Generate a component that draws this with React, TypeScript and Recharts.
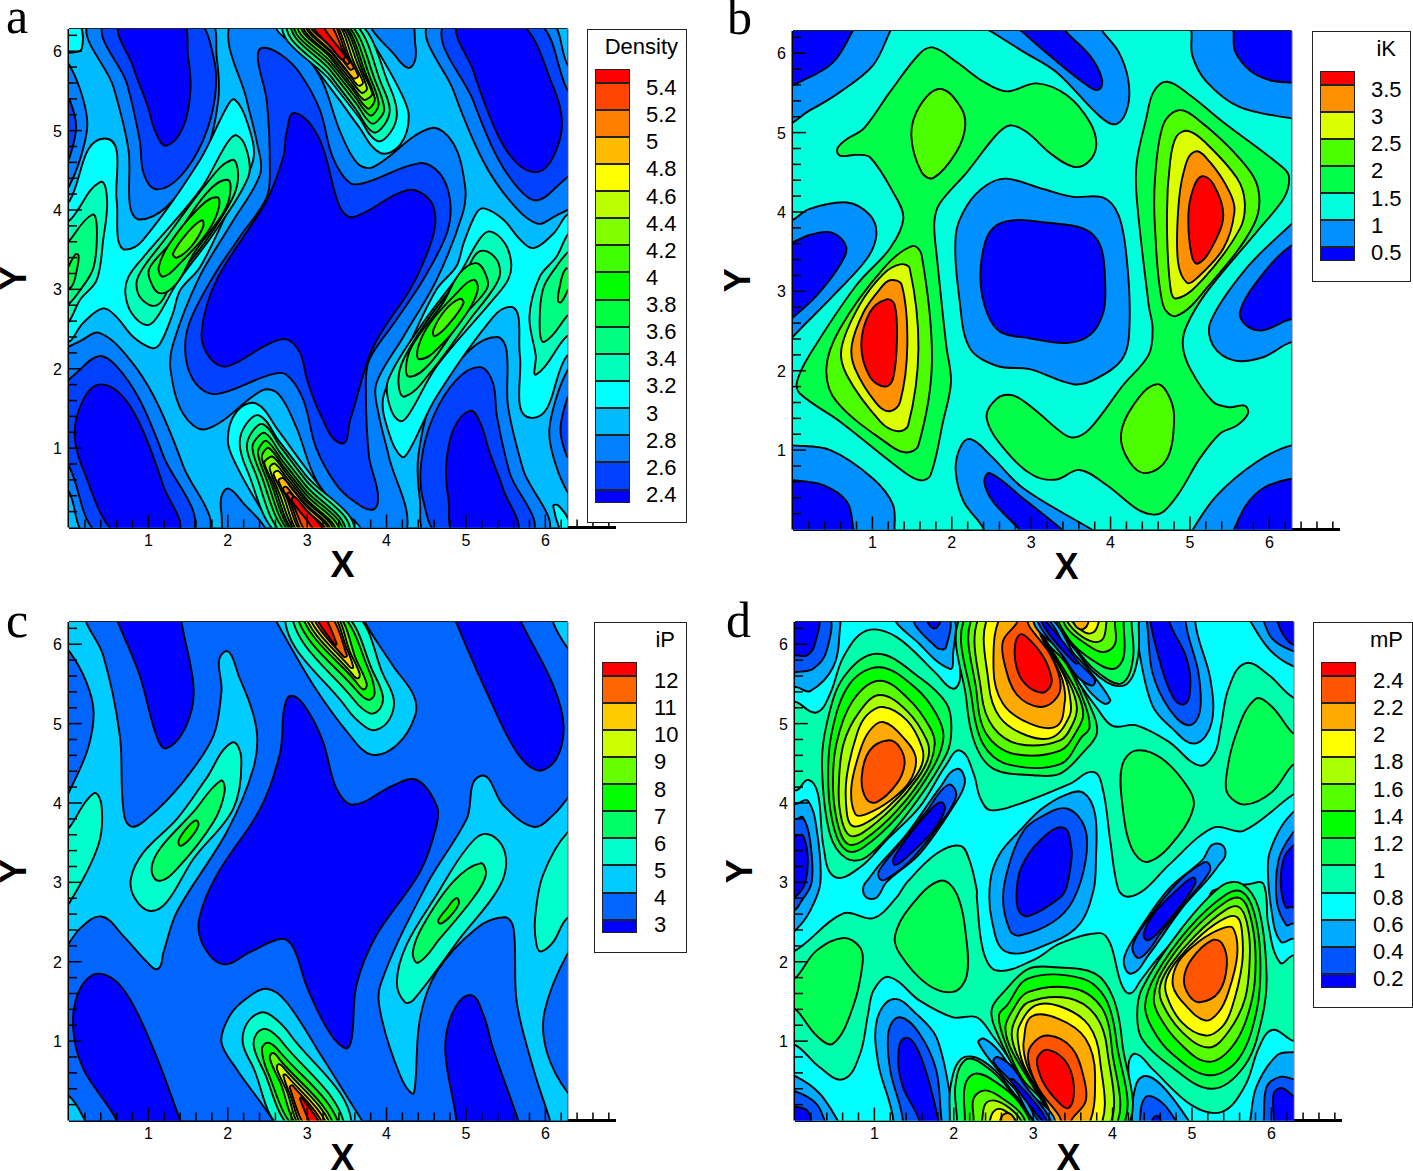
import { ScatterChart, Scatter, XAxis, YAxis, ReferenceLine } from 'recharts';

// each contour: [band, x, y, x, y, ...], painted in list order
type Contour = number[];

const xTicks = [0.2, 0.4, 0.6, 0.8, 1, 1.2, 1.4, 1.6, 1.8, 2, 2.2, 2.4, 2.6, 2.8, 3, 3.2, 3.4, 3.6, 3.8, 4, 4.2, 4.4, 4.6, 4.8, 5, 5.2, 5.4, 5.6, 5.8, 6, 6.2, 6.4, 6.6, 6.8];
const yTicks = [0.2, 0.4, 0.6, 0.8, 1, 1.2, 1.4, 1.6, 1.8, 2, 2.2, 2.4, 2.6, 2.8, 3, 3.2, 3.4, 3.6, 3.8, 4, 4.2, 4.4, 4.6, 4.8, 5, 5.2, 5.4, 5.6, 5.8, 6, 6.2];

const densityLevels = ['5.4', '5.2', '5', '4.8', '4.6', '4.4', '4.2', '4', '3.8', '3.6', '3.4', '3.2', '3', '2.8', '2.6', '2.4'];
const ikLevels = ['3.5', '3', '2.5', '2', '1.5', '1', '0.5'];
const ipLevels = ['12', '11', '10', '9', '8', '7', '6', '5', '4', '3'];
const mpLevels = ['2.4', '2.2', '2', '1.8', '1.6', '1.4', '1.2', '1', '0.8', '0.6', '0.4', '0.2'];

const densityColors = ['#0000ff', '#0040ff', '#0080ff', '#00bbff', '#00ffff', '#00ffbb', '#00ff80', '#00ff40', '#00ff00', '#40ff00', '#80ff00', '#bbff00', '#ffff00', '#ffbb00', '#ff8000', '#ff4500', '#ff0000'];
const ikColors = ['#0000ff', '#0090ff', '#00ffdc', '#00ff48', '#4cff00', '#dcff00', '#ff9000', '#ff0000'];
const ipColors = ['#0000ff', '#0066ff', '#00ccff', '#00ffcc', '#00ff66', '#00ff00', '#66ff00', '#ccff00', '#ffcc00', '#ff6600', '#ff0000'];
const mpColors = ['#0000ff', '#0055ff', '#00aaff', '#00ffff', '#00ffaa', '#00ff55', '#00ff00', '#55ff00', '#aaff00', '#ffff00', '#ffaa00', '#ff5500', '#ff0000'];

const densityContours: Contour[] = [
  [2, 2.56,6.37, 3.14,5.72, 3.41,5.0, 3.63,4.59, 3.83,4.54, 4.55,5.03, 4.84,4.84, 4.99,4.29, 4.96,3.96, 4.63,3.12, 4.21,2.40, 3.87,1.81, 3.90,1.43, 4.03,0.89, 4.24,-0.09, 3.72,-0.09, 3.14,0.55, 2.86,1.27, 2.64,1.68, 2.44,1.73, 1.73,1.24, 1.44,1.43, 1.28,1.98, 1.31,2.31, 1.64,3.15, 2.07,3.87, 2.41,4.46, 2.37,4.84, 2.24,5.38, 2.03,6.37],
  [2, 0.29,6.39, 0.56,5.55, 0.75,4.75, 0.77,4.04, 0.89,3.88, 1.23,4.04, 1.69,4.63, 1.88,5.38, 1.86,5.93, 1.75,6.39],
  [2, 5.99,-0.11, 5.72,0.73, 5.53,1.53, 5.51,2.24, 5.39,2.40, 5.05,2.24, 4.59,1.65, 4.40,0.90, 4.42,0.35, 4.53,-0.11],
  [2, 4.57,6.39, 4.84,5.51, 5.21,4.63, 5.55,4.12, 5.89,3.83, 6.10,3.91, 6.43,4.16, 6.43,5.6, 6.27,5.85, 6.03,6.39],
  [2, 1.71,-0.11, 1.44,0.77, 1.07,1.65, 0.73,2.16, 0.39,2.45, 0.18,2.37, -0.15,2.12, -0.15,0.68, 0.01,0.43, 0.25,-0.11],
  [2, -0.1,5.9, 0.02,5.80, 0.18,5.39, 0.23,5.05, 0.14,4.64, 0.0,4.30, -0.1,4.2],
  [2, 6.38,0.38, 6.26,0.48, 6.10,0.89, 6.05,1.23, 6.14,1.64, 6.28,1.98, 6.38,2.08],
  [2, 3.82,6.39, 3.82,6.27, 4.08,5.98, 4.27,5.79, 4.36,5.89, 4.36,6.10, 4.29,6.39],
  [2, 2.46,-0.11, 2.46,0.01, 2.20,0.30, 2.01,0.49, 1.92,0.39, 1.92,0.18, 1.99,-0.11],
  [1, 2.43,6.04, 2.68,5.95, 2.91,5.72, 3.16,5.26, 3.32,4.67, 3.54,4.34, 3.75,4.35, 4.42,4.59, 4.67,4.46, 4.80,4.12, 4.76,3.71, 4.46,3.12, 4.12,2.61, 3.78,2.11, 3.74,1.73, 3.78,0.89, 3.89,0.43, 3.84,0.23, 3.59,0.33, 3.36,0.55, 3.11,1.01, 2.95,1.61, 2.73,1.93, 2.52,1.92, 1.85,1.68, 1.60,1.81, 1.47,2.15, 1.51,2.56, 1.81,3.15, 2.15,3.66, 2.49,4.16, 2.53,4.54, 2.49,5.38, 2.38,5.89],
  [1, 0.47,6.39, 0.73,5.59, 0.89,4.88, 0.94,4.46, 1.10,4.26, 1.40,4.42, 1.69,4.88, 1.84,5.43, 1.82,5.93, 1.59,6.39],
  [1, 5.81,-0.11, 5.55,0.69, 5.39,1.40, 5.34,1.82, 5.18,2.02, 4.88,1.86, 4.59,1.40, 4.44,0.85, 4.46,0.35, 4.69,-0.11],
  [1, 4.75,6.39, 5.09,5.38, 5.39,4.67, 5.68,4.25, 5.89,4.12, 6.14,4.29, 6.43,4.63, 6.43,5.3, 6.27,5.53, 5.87,6.39],
  [1, 1.53,-0.11, 1.19,0.90, 0.89,1.61, 0.60,2.03, 0.39,2.16, 0.14,1.99, -0.15,1.65, -0.15,0.98, 0.01,0.75, 0.41,-0.11],
  [1, -0.05,5.4, 0.01,5.38, 0.09,5.05, 0.01,4.67, -0.05,4.6],
  [1, 6.33,0.88, 6.27,0.90, 6.19,1.23, 6.27,1.61, 6.33,1.68],
  [0, 2.85,5.22, 3.16,4.88, 3.41,4.04, 3.58,3.91, 4.26,4.25, 4.55,4.12, 4.61,3.79, 4.46,3.33, 4.29,2.99, 3.83,2.27, 3.54,1.35, 3.43,1.06, 3.16,1.44, 3.0,1.86, 2.91,2.2, 2.74,2.37, 2.49,2.30, 1.99,2.03, 1.78,2.13, 1.67,2.45, 1.86,3.12, 2.49,4.12, 2.7,4.67, 2.74,4.97],
  [0, 0.66,6.39, 0.81,5.80, 0.98,5.34, 1.10,4.96, 1.23,4.81, 1.44,5.05, 1.53,5.51, 1.50,5.93, 1.40,6.39],
  [0, 5.62,-0.11, 5.47,0.48, 5.30,0.94, 5.18,1.32, 5.05,1.47, 4.84,1.23, 4.75,0.77, 4.78,0.35, 4.88,-0.11],
  [0, 4.92,6.39, 5.09,5.76, 5.39,4.97, 5.64,4.59, 5.91,4.48, 6.10,4.67, 6.21,5.09, 6.10,5.55, 5.65,6.39],
  [0, 1.36,-0.11, 1.19,0.52, 0.89,1.31, 0.64,1.69, 0.37,1.80, 0.18,1.61, 0.07,1.19, 0.18,0.73, 0.63,-0.11],
  [4, -0.15,6.4, 0.1,6.4, 0.16,6.03, 0.0,5.98, -0.15,6.0],
  [4, 6.10,0.27, 6.16,0.28, 6.30,0.08, 6.3,-0.1, 6.22,-0.1],
  [4, 0.01,4.12, 0.45,4.90, 0.60,4.12, 0.62,3.62, 0.71,3.50, 0.93,3.62, 1.65,4.63, 1.99,5.30, 2.09,5.39, 2.25,5.09, 2.32,4.63, 1.99,3.96, 1.65,3.28, 1.40,2.99, 1.31,2.70, 1.15,2.32, 1.05,2.26, 0.81,2.40, 0.60,2.65, 0.43,2.76, 0.18,2.58, -0.03,2.36, -0.15,3.2, -0.1,4.0],
  [4, 6.31,3.92, 6.10,3.70, 5.85,3.52, 5.68,3.63, 5.47,3.88, 5.23,4.02, 5.13,3.96, 4.97,3.58, 4.88,3.29, 4.63,3.0, 4.29,2.32, 3.96,1.65, 4.03,1.19, 4.19,0.89, 4.29,0.98, 4.63,1.65, 5.35,2.66, 5.57,2.78, 5.66,2.66, 5.68,2.16, 5.83,1.38, 6.27,2.16, 6.43,2.16, 6.43,3.1],
  [5, -0.1,3.9, 0.01,3.87, 0.39,4.35, 0.48,4.12, 0.43,3.62, 0.35,3.12, 0.14,2.87, 0.01,2.61, -0.1,2.5],
  [5, 6.38,3.78, 6.27,3.67, 6.14,3.41, 5.93,3.16, 5.80,2.66, 5.88,2.16, 5.89,1.93, 6.27,2.41, 6.38,2.38],
  [5, 2.11,4.94, 2.24,4.75, 2.26,4.42, 1.82,3.70, 1.36,3.08, 1.11,2.65, 0.98,2.55, 0.79,2.70, 0.71,2.95, 0.75,3.16, 0.94,3.41, 1.65,4.25, 1.99,4.84],
  [5, 4.17,1.34, 4.04,1.53, 4.02,1.86, 4.46,2.58, 4.92,3.20, 5.17,3.63, 5.30,3.73, 5.49,3.58, 5.57,3.33, 5.53,3.12, 5.34,2.87, 4.63,2.03, 4.29,1.44],
  [6, -0.1,3.5, 0.01,3.62, 0.29,3.94, 0.35,3.79, 0.31,3.28, 0.14,2.99, -0.02,2.8, -0.1,2.8],
  [6, 6.38,3.48, 6.30,3.48, 6.14,3.29, 5.97,3.0, 5.93,2.49, 5.99,2.34, 6.27,2.66, 6.38,2.78],
  [6, 2.05,4.63, 2.13,4.46, 2.07,4.17, 1.73,3.62, 1.27,3.03, 1.11,2.80, 0.92,2.87, 0.85,3.08, 0.94,3.28, 1.23,3.66, 1.73,4.33],
  [6, 4.23,1.65, 4.15,1.82, 4.21,2.11, 4.55,2.66, 5.01,3.25, 5.17,3.48, 5.36,3.41, 5.43,3.20, 5.34,3.0, 5.05,2.62, 4.55,1.95],
  [7, -0.05,3.1, 0.02,3.02, 0.1,3.25, 0.12,3.43, 0.08,3.44, 0.0,3.3, -0.05,3.2],
  [7, 6.33,3.18, 6.26,3.26, 6.18,3.03, 6.16,2.85, 6.2,2.84, 6.28,2.98, 6.33,3.08],
  [7, 1.99,4.38, 2.03,4.21, 1.94,3.96, 1.57,3.45, 1.36,3.08, 1.15,2.95, 1.02,3.12, 1.02,3.28, 1.31,3.62, 1.73,4.21],
  [7, 4.29,1.90, 4.25,2.07, 4.34,2.32, 4.71,2.83, 4.92,3.20, 5.13,3.33, 5.26,3.16, 5.26,3.0, 4.97,2.66, 4.55,2.07],
  [8, 1.86,4.16, 1.88,4.0, 1.73,3.70, 1.40,3.33, 1.19,3.16, 1.13,3.28, 1.27,3.58, 1.61,4.0],
  [8, 4.42,2.12, 4.40,2.28, 4.55,2.58, 4.88,2.95, 5.09,3.12, 5.15,3.0, 5.01,2.70, 4.67,2.28],
  [9, 1.67,3.87, 1.69,3.79, 1.54,3.54, 1.36,3.40, 1.31,3.45, 1.48,3.70],
  [9, 4.61,2.41, 4.59,2.49, 4.74,2.74, 4.92,2.88, 4.97,2.83, 4.80,2.58],
  // top peak
  [4, 2.63,6.4, 3.0,5.92, 3.41,5.38, 3.65,5.05, 3.92,4.72, 4.17,4.82, 4.28,5.18, 4.17,5.5, 3.83,6.10, 3.69,6.28, 3.6,6.45],
  [5, 2.70,6.4, 3.3,5.62, 3.65,5.17, 3.88,4.87, 4.05,4.98, 4.13,5.22, 4.04,5.55, 3.60,6.4],
  [6, 2.75,6.4, 3.3,5.68, 3.62,5.26, 3.83,4.98, 3.97,5.07, 4.04,5.27, 3.95,5.55, 3.54,6.4],
  [7, 2.80,6.4, 3.3,5.75, 3.62,5.34, 3.81,5.09, 3.92,5.16, 3.97,5.28, 3.88,5.57, 3.48,6.4],
  [8, 2.83,6.4, 3.3,5.81, 3.6,5.43, 3.79,5.19, 3.87,5.25, 3.90,5.35, 3.82,5.6, 3.44,6.4],
  [9, 2.87,6.4, 3.3,5.86, 3.58,5.51, 3.76,5.28, 3.83,5.33, 3.85,5.41, 3.76,5.66, 3.41,6.4],
  [10, 2.91,6.4, 3.3,5.91, 3.55,5.59, 3.71,5.39, 3.79,5.42, 3.82,5.47, 3.72,5.7, 3.39,6.4],
  [11, 2.93,6.4, 3.33,5.91, 3.54,5.65, 3.68,5.48, 3.74,5.5, 3.75,5.55, 3.66,5.78, 3.36,6.4],
  [12, 2.96,6.4, 3.33,5.95, 3.52,5.72, 3.64,5.57, 3.69,5.58, 3.70,5.62, 3.6,5.83, 3.34,6.4],
  [13, 2.98,6.4, 3.32,5.98, 3.48,5.78, 3.58,5.66, 3.63,5.67, 3.64,5.70, 3.55,5.88, 3.31,6.4],
  [14, 3.01,6.4, 3.3,6.05, 3.45,5.88, 3.54,5.77, 3.58,5.78, 3.58,5.81, 3.5,5.95, 3.29,6.4],
  [15, 3.04,6.4, 3.3,6.08, 3.43,5.92, 3.50,5.84, 3.53,5.85, 3.53,5.87, 3.46,5.99, 3.25,6.4],
  [16, 3.07,6.4, 3.09,6.28, 3.3,6.05, 3.43,5.9, 3.47,5.91, 3.47,5.95, 3.22,6.28, 3.2,6.4],
  // bottom peak
  [4, 3.65,-0.12, 3.28,0.36, 2.87,0.90, 2.63,1.23, 2.36,1.56, 2.11,1.46, 2.0,1.10, 2.11,0.78, 2.45,0.18, 2.59,0.0, 2.68,-0.17],
  [5, 3.58,-0.12, 2.98,0.66, 2.63,1.11, 2.40,1.41, 2.23,1.30, 2.15,1.06, 2.24,0.73, 2.68,-0.12],
  [6, 3.53,-0.12, 2.98,0.60, 2.66,1.02, 2.45,1.30, 2.31,1.21, 2.24,1.01, 2.33,0.73, 2.74,-0.12],
  [7, 3.48,-0.12, 2.98,0.53, 2.66,0.94, 2.47,1.19, 2.36,1.12, 2.31,1.0, 2.40,0.71, 2.80,-0.12],
  [8, 3.45,-0.12, 2.98,0.47, 2.68,0.85, 2.49,1.09, 2.41,1.03, 2.38,0.93, 2.46,0.68, 2.84,-0.12],
  [9, 3.41,-0.12, 2.98,0.42, 2.70,0.77, 2.52,1.0, 2.45,0.95, 2.43,0.87, 2.52,0.62, 2.87,-0.12],
  [10, 3.37,-0.12, 2.98,0.37, 2.73,0.69, 2.57,0.89, 2.49,0.86, 2.46,0.81, 2.56,0.58, 2.89,-0.12],
  [11, 3.35,-0.12, 2.95,0.37, 2.74,0.63, 2.60,0.80, 2.54,0.78, 2.53,0.73, 2.62,0.50, 2.92,-0.12],
  [12, 3.32,-0.12, 2.95,0.33, 2.76,0.56, 2.64,0.71, 2.59,0.70, 2.58,0.66, 2.68,0.45, 2.94,-0.12],
  [13, 3.30,-0.12, 2.96,0.30, 2.80,0.50, 2.70,0.62, 2.65,0.61, 2.64,0.58, 2.73,0.40, 2.97,-0.12],
  [14, 3.27,-0.12, 2.98,0.23, 2.83,0.40, 2.74,0.51, 2.70,0.50, 2.70,0.47, 2.78,0.33, 2.99,-0.12],
  [15, 3.24,-0.12, 2.98,0.20, 2.85,0.36, 2.78,0.44, 2.75,0.43, 2.75,0.41, 2.82,0.29, 3.03,-0.12],
  [16, 3.21,-0.12, 3.19,0.0, 2.98,0.23, 2.85,0.38, 2.81,0.37, 2.81,0.33, 3.06,0.0, 3.08,-0.12],
];

const ikContours: Contour[] = [
  [1, 1.30,6.4, 1.24,6.31, 1.01,5.85, 0.59,5.51, 0.21,5.28, -0.12,5.13, -0.15,6.4],
  [0, 0.78,6.4, 0.74,6.26, 0.51,5.89, 0.17,5.68, -0.12,5.62, -0.15,6.4],
  [1, 5.0,6.4, 5.02,6.26, 5.03,5.97, 5.21,5.64, 5.63,5.32, 6.28,5.18, 6.45,5.17, 6.45,6.4],
  [0, 5.55,6.4, 5.55,6.26, 5.57,6.02, 5.76,5.78, 6.01,5.66, 6.28,5.63, 6.45,5.62, 6.45,6.4],
  [1, 2.3,6.4, 2.52,6.26, 2.90,6.02, 3.32,5.76, 3.87,5.20, 4.08,5.11, 4.22,5.34, 4.22,5.68, 4.10,6.02, 3.91,6.26, 3.8,6.4],
  [0, 2.75,6.4, 2.90,6.26, 3.28,5.93, 3.70,5.60, 3.85,5.54, 3.89,5.68, 3.74,5.97, 3.45,6.26, 3.35,6.4],
  [1, -0.1,3.85, 0,3.90, 0.21,4.04, 0.68,4.12, 0.97,3.96, 1.05,3.71, 0.93,3.41, 0.51,2.95, 0,2.43, -0.1,2.3],
  [0, -0.1,3.6, 0,3.62, 0.21,3.71, 0.49,3.74, 0.67,3.56, 0.59,3.33, 0.30,2.95, 0,2.67, -0.1,2.6],
  [1, 6.28,3.85, 5.71,3.29, 5.26,2.62, 5.29,2.32, 5.55,2.13, 5.92,2.17, 6.28,2.36, 6.4,2.3, 6.4,3.95],
  [0, 6.28,3.58, 5.84,3.12, 5.63,2.74, 5.71,2.57, 5.92,2.51, 6.28,2.65, 6.4,2.6, 6.4,3.5],
  [1, -0.1,1.06, 0,1.06, 0.47,1.0, 1.01,0.64, 1.26,0.31, 1.28,-0.03, 1.3,-0.15, -0.15,-0.15],
  [0, -0.1,0.61, 0,0.62, 0.38,0.56, 0.68,0.35, 0.76,0.01, 0.78,-0.15, -0.15,-0.15],
  [1, 2.23,1.14, 2.48,0.94, 2.90,0.52, 3.78,-0.01, 4.0,-0.15, 2.4,-0.15, 2.40,0.01, 2.15,0.35, 2.05,0.73, 2.10,1.02],
  [0, 2.48,0.71, 2.90,0.39, 3.40,-0.01, 3.55,-0.15, 2.95,-0.15, 2.86,-0.01, 2.52,0.35, 2.41,0.60],
  [1, 6.28,1.06, 5.84,0.85, 5.34,0.43, 5.02,-0.03, 5.0,-0.15, 6.45,-0.15, 6.45,1.0],
  [0, 6.28,0.64, 5.92,0.52, 5.71,0.31, 5.55,-0.01, 5.5,-0.15, 6.45,-0.15, 6.45,0.6],
  [1, 2.69,4.42, 3.15,4.29, 3.53,4.19, 3.91,4.18, 4.10,3.96, 4.20,3.45, 4.24,2.62, 4.16,2.17, 3.82,1.90, 3.53,1.83, 2.98,2.02, 2.57,2.06, 2.23,2.28, 2.10,2.87, 2.05,3.71, 2.19,4.08, 2.44,4.34],
  [0, 2.82,3.90, 3.15,3.87, 3.66,3.79, 3.87,3.58, 3.93,3.16, 3.91,2.74, 3.74,2.45, 3.45,2.35, 2.98,2.41, 2.61,2.49, 2.44,2.74, 2.36,3.16, 2.42,3.62, 2.56,3.83],
  [3, 1.77,6.07, 2.06,5.89, 2.40,5.64, 2.69,5.52, 3.07,5.62, 3.45,5.47, 3.74,5.13, 3.82,4.84, 3.72,4.63, 3.53,4.57, 3.24,4.74, 2.94,5.01, 2.73,5.09, 2.56,4.97, 2.19,4.50, 1.85,4.11, 1.78,3.87, 1.81,3.45, 1.93,2.32, 1.99,1.86, 1.89,1.36, 1.73,0.68, 1.60,0.62, 1.39,0.73, 0.59,1.36, 0.09,1.71, 0.05,1.86, 0.21,2.20, 0.80,3.08, 1.22,3.54, 1.39,3.92, 1.26,4.25, 0.97,4.69, 0.80,4.72, 0.59,4.71, 0.56,4.80, 0.68,4.92, 0.89,5.05, 1.22,5.51, 1.60,6.0],
  [3, 4.71,5.64, 5.0,5.47, 5.42,5.13, 6.18,4.55, 6.25,4.42, 6.18,4.17, 5.84,3.75, 5.21,2.99, 4.96,2.57, 4.91,2.32, 5.0,2.03, 5.29,1.61, 5.50,1.54, 5.69,1.56, 5.73,1.46, 5.59,1.31, 5.38,1.21, 5.12,0.89, 4.87,0.47, 4.66,0.22, 4.52,0.19, 4.33,0.26, 3.95,0.56, 3.61,0.75, 3.32,0.63, 3.03,0.68, 2.69,0.98, 2.44,1.40, 2.57,1.65, 2.77,1.69, 3.03,1.52, 3.40,1.21, 3.55,1.16, 3.74,1.27, 4.16,1.82, 4.48,2.20, 4.53,2.53, 4.48,2.83, 4.33,4.17, 4.33,4.63, 4.45,5.18, 4.54,5.51],
  [4, 1.85,5.55, 2.10,5.34, 2.17,5.09, 2.06,4.76, 1.77,4.43, 1.62,4.50, 1.49,4.97, 1.60,5.34],
  [4, 4.58,1.83, 4.75,1.65, 4.80,1.36, 4.71,0.89, 4.45,0.71, 4.24,0.85, 4.13,1.19, 4.29,1.57],
  [4, 1.50,3.57, 1.62,3.46, 1.75,2.11, 1.58,1.06, 1.43,0.97, 1.22,1.06, 0.55,1.61, 0.42,2.03, 0.59,2.53, 1.14,3.29],
  [4, 4.85,5.28, 5.08,5.18, 5.63,4.67, 5.86,4.29, 5.80,3.83, 5.21,3.04, 4.83,2.69, 4.66,2.83, 4.56,3.79, 4.56,4.42, 4.66,5.09],
  [5, 1.35,3.34, 1.47,3.29, 1.58,2.28, 1.45,1.31, 1.31,1.24, 1.10,1.36, 0.68,1.94, 0.61,2.28, 0.84,2.83, 1.14,3.22],
  [5, 4.98,5.02, 5.21,4.86, 5.59,4.43, 5.69,4.13, 5.63,3.79, 5.17,3.16, 4.83,2.91, 4.75,3.08, 4.71,3.96, 4.75,4.63, 4.83,4.95],
  [6, 1.22,3.14, 1.37,3.08, 1.44,2.32, 1.35,1.61, 1.22,1.49, 1.05,1.59, 0.78,2.03, 0.74,2.32, 0.89,2.74, 1.08,3.01],
  [6, 5.06,4.76, 5.25,4.63, 5.50,4.25, 5.56,4.0, 5.42,3.54, 5.08,3.16, 4.96,3.11, 4.85,3.37, 4.85,4.0, 4.92,4.50],
  [7, 1.18,2.90, 1.28,2.83, 1.31,2.41, 1.26,1.90, 1.16,1.80, 0.97,1.92, 0.86,2.32, 0.97,2.74],
  [7, 5.15,4.45, 5.30,4.34, 5.42,3.96, 5.29,3.58, 5.10,3.35, 5.02,3.46, 4.98,3.96, 5.04,4.29],
];

const ipContours: Contour[] = [
  [0, 2.80,5.35, 2.99,5.19, 3.20,4.77, 3.37,4.18, 3.58,3.98, 4.08,4.22, 4.38,4.29, 4.63,3.97, 4.63,3.72, 4.42,3.13, 3.87,2.33, 3.62,1.70, 3.56,1.03, 3.48,0.91, 3.25,1.16, 2.99,1.70, 2.83,2.17, 2.68,2.29, 2.28,2.12, 1.94,1.97, 1.69,2.21, 1.64,2.54, 1.86,3.09, 2.41,3.93, 2.66,4.64, 2.71,5.19],
  [0, 0.58,6.4, 0.62,6.27, 0.89,5.61, 1.10,4.85, 1.23,4.69, 1.48,4.98, 1.57,5.44, 1.42,6.27, 1.42,6.4],
  [0, 4.85,6.4, 4.88,6.27, 5.30,5.31, 5.64,4.64, 5.91,4.41, 6.14,4.56, 6.23,4.98, 6.10,5.48, 5.70,6.27, 5.65,6.4],
  [0, 0.37,1.85, 0.68,1.66, 1.06,0.91, 1.40,0, 1.45,-0.15, 0.55,-0.15, 0.60,0, 0.18,0.65, 0.05,1.20, 0.14,1.66],
  [0, 5.05,1.58, 5.22,1.33, 5.34,0.91, 5.66,0, 5.7,-0.15, 4.86,-0.15, 4.88,0, 4.74,0.86, 4.82,1.33],
  [2, -0.16,6.4, 0.2,6.4, 0.22,6.27, 0.43,5.86, 0.64,4.85, 0.68,3.97, 0.77,3.71, 0.98,3.80, 1.44,4.27, 1.82,4.85, 1.92,5.40, 1.95,5.90, 2.15,5.57, 2.36,4.94, 2.32,4.43, 1.99,3.64, 1.36,2.63, 1.19,2.12, 1.12,1.91, 0.98,2.0, 0.68,2.33, 0.41,2.57, 0.14,2.42, -0.16,2.08],
  [1, -0.1,5.95, 0.01,5.90, 0.22,5.52, 0.31,5.15, 0.24,4.69, 0.01,4.16, -0.1,4.0],
  [3, 0.01,3.70, 0.31,4.12, 0.41,3.97, 0.37,3.47, 0.01,2.75, -0.1,2.7, -0.1,3.6],
  [3, 2.05,4.76, 2.17,4.56, 2.07,3.93, 1.57,3.30, 1.23,2.75, 1.02,2.64, 0.83,2.80, 0.78,3.05, 0.94,3.38, 1.36,3.80, 1.73,4.31],
  [4, 1.91,4.28, 1.96,4.14, 1.82,3.76, 1.36,3.17, 1.13,3.02, 1.04,3.17, 1.15,3.43, 1.57,3.89],
  [5, 1.60,3.78, 1.63,3.72, 1.54,3.57, 1.41,3.46, 1.38,3.52, 1.48,3.68],
  [2, 5.18,4.34, 5.47,3.97, 5.85,3.70, 6.10,3.85, 6.35,4.14, 6.45,4.2, 6.45,-0.15, 6.1,-0.15, 6.06,0, 5.85,0.65, 5.64,1.49, 5.60,2.42, 5.49,2.56, 5.13,2.42, 4.63,1.87, 4.42,1.28, 4.36,0.45, 4.32,0.34, 4.17,0.57, 3.94,1.28, 3.92,1.70, 4.50,2.96, 5.01,3.80],
  [1, 6.29,2.12, 5.99,1.37, 6.02,0.86, 6.29,0.34, 6.45,0.3, 6.45,2.2],
  [3, 6.29,3.64, 5.97,3.09, 5.87,2.54, 5.89,2.21, 5.95,2.13, 6.10,2.25, 6.29,2.56, 6.45,2.5, 6.45,3.6],
  [2, 6.10,6.27, 6.29,5.94, 6.45,5.8, 6.45,6.4, 6.1,6.4],
  [2, 0.01,0.30, 0.20,0, 0.25,-0.15, -0.15,-0.15, -0.15,0.3],
  [3, 5.26,3.61, 5.49,3.38, 5.43,2.96, 4.92,2.29, 4.34,1.52, 4.23,1.49, 4.13,1.75, 4.25,2.21, 4.63,2.84, 5.01,3.43],
  [4, 5.18,3.24, 5.25,3.09, 5.09,2.80, 4.67,2.29, 4.40,1.99, 4.33,2.12, 4.46,2.46, 4.84,3.01],
  [5, 4.88,2.80, 4.91,2.73, 4.80,2.57, 4.68,2.48, 4.65,2.52, 4.76,2.67],
  [2, 2.49,1.66, 2.74,1.49, 3.20,0.78, 3.69,0, 3.8,-0.15, 2.6,-0.15, 2.57,0, 2.11,0.65, 1.92,0.99, 2.03,1.33, 2.24,1.54],
  [2, 2.62,6.27, 3.08,5.48, 3.54,4.85, 3.81,4.61, 4.13,4.73, 4.36,5.10, 4.34,5.36, 4.08,5.73, 3.73,6.27, 3.7,6.4, 2.55,6.4],
  [3, 2.72,6.4, 3.50,5.19, 3.73,4.96, 3.87,4.92, 4.04,5.06, 4.09,5.31, 3.96,5.61, 3.58,6.4],
  [4, 2.8,6.4, 3.58,5.31, 3.79,5.13, 3.92,5.19, 3.95,5.36, 3.83,5.65, 3.45,6.4],
  [5, 2.86,6.4, 3.62,5.42, 3.77,5.30, 3.85,5.38, 3.77,5.69, 3.40,6.4],
  [6, 2.92,6.4, 3.62,5.52, 3.71,5.43, 3.75,5.50, 3.62,5.80, 3.36,6.4],
  [7, 2.96,6.4, 3.58,5.61, 3.64,5.57, 3.66,5.63, 3.54,5.90, 3.33,6.4],
  [8, 3.0,6.4, 3.54,5.71, 3.58,5.71, 3.50,5.94, 3.30,6.4],
  [9, 3.05,6.4, 3.46,5.84, 3.50,5.86, 3.27,6.4],
  [10, 3.08,6.4, 3.35,5.99, 3.37,6.01, 3.19,6.4],
  [3, 3.56,-0.12, 2.78,1.09, 2.55,1.32, 2.41,1.36, 2.24,1.22, 2.19,0.97, 2.32,0.67, 2.70,-0.12],
  [4, 3.48,-0.12, 2.70,0.97, 2.49,1.15, 2.36,1.09, 2.33,0.92, 2.45,0.63, 2.83,-0.12],
  [5, 3.42,-0.12, 2.66,0.86, 2.51,0.98, 2.43,0.90, 2.51,0.59, 2.88,-0.12],
  [6, 3.36,-0.12, 2.66,0.76, 2.57,0.85, 2.53,0.78, 2.66,0.48, 2.92,-0.12],
  [7, 3.32,-0.12, 2.70,0.67, 2.64,0.71, 2.62,0.65, 2.74,0.38, 2.95,-0.12],
  [8, 3.28,-0.12, 2.74,0.57, 2.70,0.57, 2.78,0.34, 2.98,-0.12],
  [9, 3.23,-0.12, 2.82,0.44, 2.78,0.42, 3.01,-0.12],
  [10, 3.2,-0.12, 2.93,0.29, 2.91,0.27, 3.09,-0.12],
];

const mpContours: Contour[] = [
  // cyan regions
  [3, -0.15,5.3, 0.02,5.27, 0.27,5.14, 0.44,5.37, 0.61,5.84, 0.90,6.17, 1.28,6.09, 1.78,5.63, 1.99,5.44, 2.08,5.58, 2.02,6.26, 2.0,6.4, -0.15,6.4],
  [3, 2.08,4.66, 2.25,4.37, 2.33,4.07, 2.46,3.91, 2.83,3.99, 3.46,4.24, 3.76,4.39, 3.88,4.16, 3.97,3.53, 4.07,2.92, 4.18,2.82, 4.39,2.90, 4.72,3.23, 5.27,3.69, 5.65,3.65, 6.28,4.11, 6.5,4.2, 6.5,2.0, 6.28,2.08, 6.11,1.99, 5.96,2.48, 5.90,2.98, 5.73,2.98, 5.27,2.90, 5.18,2.73, 4.81,2.31, 4.55,2.02, 4.35,1.76, 4.22,1.60, 4.11,1.72, 3.97,2.23, 3.84,2.36, 3.34,2.23, 3.0,2.02, 2.54,1.89, 2.37,2.14, 2.29,2.81, 2.29,2.90, 2.20,3.27, 2.08,3.46, 1.78,3.36, 1.41,3.0, 1.28,2.81, 0.99,2.55, 0.61,2.61, 0.06,2.18, -0.15,2.1, -0.15,4.2, 0.02,4.16, 0.17,4.29, 0.29,4.11, 0.36,3.44, 0.50,3.07, 0.82,3.19, 1.15,3.53, 1.57,3.95, 1.91,4.49],
  [3, 6.43,5.33, 6.26,5.34, 5.97,5.61, 5.67,5.76, 5.46,5.44, 5.36,4.94, 5.29,4.64, 5.10,4.47, 4.71,4.77, 4.29,4.98, 4.0,4.97, 3.80,5.2, 3.53,5.58, 3.35,5.9, 3.1,6.3, 3.08,6.43, 6.43,6.43],
  [3, -0.15,0.95, 0.02,0.94, 0.31,0.67, 0.61,0.52, 0.82,0.84, 0.92,1.34, 0.99,1.64, 1.18,1.81, 1.57,1.51, 1.99,1.30, 2.29,1.30, 2.48,1.08, 2.75,0.70, 2.93,0.38, 3.18,-0.02, 3.2,-0.15, -0.15,-0.15],
  [3, 6.26,1.01, 6.01,1.14, 5.84,0.91, 5.67,0.44, 5.38,0.11, 5.0,0.19, 4.50,0.65, 4.29,0.84, 4.20,0.70, 4.26,0.02, 4.28,-0.12, 6.43,-0.12, 6.43,0.98],
  // blue lobes
  [2, -0.1,5.45, 0.02,5.46, 0.19,5.41, 0.48,5.71, 0.56,6.13, 0.52,6.4, -0.1,6.4],
  [1, 0.40,6.4, 0.40,5.92, 0.23,5.69, 0.02,5.65, -0.1,5.65, -0.1,6.4],
  [0, 0.27,6.4, 0.25,6.0, 0.15,5.86, 0.02,5.86, -0.1,5.86, -0.1,6.4],
  [2, 1.28,6.4, 1.57,6.0, 1.95,5.69, 1.99,5.84, 1.95,6.4],
  [1, 1.49,6.4, 1.78,5.96, 1.90,5.96, 1.91,6.4],
  [0, 1.65,6.4, 1.68,6.26, 1.76,6.2, 1.82,6.26, 1.85,6.4],
  [2, -0.1,3.98, 0.02,3.99, 0.16,4.03, 0.27,3.69, 0.32,3.0, 0.19,2.64, 0.02,2.41, -0.1,2.35],
  [1, 0.02,3.80, 0.10,3.82, 0.19,3.53, 0.21,3.0, 0.06,2.73, 0.02,2.67, -0.1,2.6, -0.1,3.8],
  [0, 0.02,3.59, 0.10,3.59, 0.16,3.32, 0.13,3.0, 0.02,2.83, -0.1,2.8, -0.1,3.6],
  [2, 6.38,3.93, 6.26,3.87, 6.09,3.64, 5.96,3.28, 6.01,2.59, 6.12,2.25, 6.26,2.29, 6.38,2.30],
  [1, 6.38,3.68, 6.26,3.61, 6.09,3.28, 6.07,2.75, 6.19,2.46, 6.26,2.48, 6.38,2.48],
  [0, 6.38,3.48, 6.26,3.45, 6.15,3.28, 6.12,2.96, 6.18,2.69, 6.26,2.69, 6.38,2.68],
  [2, 2.04,4.43, 2.14,4.26, 1.99,3.95, 1.57,3.36, 1.15,3.0, 1.03,2.81, 0.90,2.81, 0.86,2.94, 0.94,3.06, 1.07,3.23, 1.41,3.61, 1.83,4.20],
  [1, 1.93,4.23, 2.03,4.09, 1.83,3.74, 1.45,3.27, 1.15,3.04, 1.07,3.04, 1.06,3.15, 1.32,3.48, 1.66,3.90],
  [0, 1.83,4.01, 1.89,3.93, 1.74,3.65, 1.41,3.32, 1.26,3.22, 1.24,3.30, 1.45,3.61, 1.66,3.86],
  [2, 4.24,1.85, 4.14,2.02, 4.29,2.33, 4.71,2.92, 5.13,3.28, 5.25,3.47, 5.38,3.47, 5.42,3.34, 5.34,3.22, 5.21,3.05, 4.87,2.67, 4.45,2.08],
  [1, 4.35,2.05, 4.25,2.19, 4.45,2.54, 4.83,3.01, 5.13,3.24, 5.21,3.24, 5.22,3.13, 4.96,2.80, 4.62,2.38],
  [0, 4.45,2.27, 4.39,2.35, 4.54,2.63, 4.87,2.96, 5.02,3.06, 5.04,2.98, 4.83,2.67, 4.62,2.42],
  [2, 2.83,3.65, 3.1,3.92, 3.4,4.1, 3.63,4.13, 3.78,3.86, 3.79,3.27, 3.76,2.90, 3.59,2.48, 3.25,2.25, 2.67,2.12, 2.48,2.52, 2.46,3.02, 2.58,3.36],
  [1, 3.09,3.82, 3.42,3.93, 3.65,3.69, 3.66,3.27, 3.50,2.77, 3.25,2.50, 2.83,2.33, 2.71,2.39, 2.62,2.81, 2.71,3.27, 2.88,3.65],
  [0, 3.38,3.69, 3.48,3.44, 3.48,3.27, 3.42,2.94, 3.34,2.81, 2.96,2.58, 2.83,2.62, 2.79,2.85, 2.85,3.19, 3.09,3.53],
  [2, -0.1,0.55, 0.02,0.55, 0.31,0.34, 0.55,-0.02, 0.6,-0.15, -0.15,-0.15],
  [1, -0.15,0.36, 0.02,0.36, 0.27,0.21, 0.38,-0.02, 0.42,-0.15, -0.15,-0.15],
  [0, -0.15,0.17, 0.02,0.17, 0.15,0.13, 0.21,-0.02, 0.25,-0.15, -0.15,-0.15],
  [2, 6.43,5.73, 6.26,5.73, 5.97,5.94, 5.73,6.30, 5.68,6.43, 6.43,6.43],
  [1, 6.43,5.92, 6.26,5.92, 6.01,6.07, 5.90,6.30, 5.86,6.43, 6.43,6.43],
  [0, 6.43,6.0, 6.26,6.0, 6.15,6.12, 6.07,6.30, 6.03,6.43, 6.43,6.43],
  [2, 1.24,1.53, 1.53,1.34, 1.78,1.05, 1.95,0.34, 1.97,-0.02, 2.0,-0.15, 1.1,-0.15, 1.24,-0.02, 1.05,0.71, 1.03,1.26],
  [1, 1.32,1.30, 1.57,1.09, 1.78,0.63, 1.85,-0.02, 1.9,-0.15, 1.25,-0.15, 1.36,-0.02, 1.20,0.63, 1.18,1.13],
  [0, 1.39,1.04, 1.57,0.84, 1.74,0.29, 1.81,-0.02, 1.85,-0.15, 1.5,-0.15, 1.57,-0.02, 1.36,0.42, 1.30,0.79],
  [2, 5.04,4.75, 4.75,4.94, 4.50,5.23, 4.33,5.94, 4.31,6.30, 4.28,6.43, 5.18,6.43, 5.04,6.30, 5.23,5.57, 5.25,5.02],
  [1, 4.96,4.98, 4.71,5.19, 4.50,5.65, 4.43,6.30, 4.38,6.43, 5.03,6.43, 4.92,6.30, 5.08,5.65, 5.10,5.15],
  [0, 4.89,5.24, 4.71,5.44, 4.54,5.99, 4.47,6.30, 4.43,6.43, 4.78,6.43, 4.71,6.30, 4.92,5.86, 4.98,5.49],
  [2, 4.24,-0.02, 4.26,0.29, 4.37,0.55, 4.60,0.46, 4.97,-0.02, 5.0,-0.15, 4.2,-0.15],
  [1, 4.34,-0.02, 4.37,0.21, 4.45,0.31, 4.64,0.21, 4.81,-0.02, 4.9,-0.15, 4.3,-0.15],
  [0, 4.48,-0.1, 4.52,0.04, 4.58,0.05, 4.62,-0.1],
  [2, 5.73,-0.02, 5.81,0.42, 6.07,0.82, 6.28,0.86, 6.43,0.84, 6.43,-0.15, 5.7,-0.15],
  [1, 5.90,-0.02, 5.94,0.42, 6.11,0.55, 6.28,0.52, 6.43,0.5, 6.43,-0.15, 5.85,-0.15],
  [0, 6.03,-0.02, 6.03,0.34, 6.13,0.41, 6.28,0.31, 6.43,0.3, 6.43,-0.15, 6.0,-0.15],
  // green lobes
  [5, 0.61,2.30, 0.82,2.18, 0.85,1.97, 0.73,1.43, 0.48,0.97, 0.27,1.07, 0.02,1.39, -0.1,1.45, -0.1,1.75, 0.02,1.81, 0.27,2.14],
  [5, 5.67,3.98, 5.46,4.10, 5.43,4.31, 5.55,4.85, 5.80,5.31, 6.01,5.21, 6.26,4.89, 6.38,4.83, 6.38,4.53, 6.26,4.47, 6.01,4.14],
  [5, 1.83,3.02, 2.04,2.85, 2.16,2.27, 2.16,1.81, 1.99,1.62, 1.66,1.72, 1.32,2.10, 1.26,2.33, 1.45,2.69],
  [5, 4.45,3.26, 4.24,3.43, 4.12,4.01, 4.12,4.47, 4.29,4.66, 4.62,4.56, 4.96,4.18, 5.02,3.95, 4.83,3.59],
  // upper left and lower right peaks
  [5, 1.03,5.88, 1.57,5.58, 1.91,5.25, 1.97,4.95, 1.91,4.62, 1.41,3.86, 0.90,3.32, 0.65,3.30, 0.44,3.61, 0.34,4.45, 0.40,5.0, 0.61,5.58],
  [6, 1.07,5.71, 1.53,5.44, 1.78,5.12, 1.87,4.83, 1.74,4.45, 1.32,3.86, 0.86,3.44, 0.65,3.40, 0.50,3.65, 0.42,4.20, 0.46,4.87, 0.69,5.50],
  [7, 1.07,5.54, 1.45,5.29, 1.70,4.95, 1.76,4.74, 1.66,4.41, 1.28,3.90, 0.86,3.53, 0.67,3.48, 0.55,3.69, 0.48,4.16, 0.52,4.74, 0.73,5.29],
  [8, 1.07,5.36, 1.41,5.16, 1.66,4.79, 1.68,4.58, 1.55,4.32, 1.24,3.95, 0.86,3.63, 0.69,3.59, 0.59,3.78, 0.55,4.16, 0.61,4.74, 0.82,5.16],
  [9, 1.11,5.21, 1.41,5.04, 1.60,4.70, 1.60,4.49, 1.45,4.24, 1.15,3.93, 0.86,3.73, 0.71,3.72, 0.65,3.90, 0.65,4.32, 0.78,4.87, 0.90,5.10],
  [10, 1.11,5.02, 1.36,4.83, 1.52,4.58, 1.45,4.28, 1.20,4.03, 0.90,3.86, 0.76,3.86, 0.71,4.20, 0.82,4.66, 0.94,4.91],
  [11, 1.18,4.79, 1.32,4.70, 1.38,4.49, 1.28,4.24, 1.03,4.01, 0.90,4.05, 0.84,4.32, 0.94,4.66],
  [5, 5.25,0.40, 4.71,0.70, 4.37,1.03, 4.31,1.33, 4.37,1.66, 4.87,2.42, 5.38,2.96, 5.63,2.98, 5.84,2.67, 5.94,1.83, 5.88,1.28, 5.67,0.70],
  [6, 5.21,0.57, 4.75,0.84, 4.50,1.16, 4.41,1.45, 4.54,1.83, 4.96,2.42, 5.42,2.84, 5.63,2.88, 5.78,2.63, 5.86,2.08, 5.82,1.41, 5.59,0.78],
  [7, 5.21,0.74, 4.83,0.99, 4.58,1.33, 4.52,1.54, 4.62,1.87, 5.0,2.38, 5.42,2.75, 5.61,2.80, 5.73,2.59, 5.80,2.12, 5.76,1.54, 5.55,0.99],
  [8, 5.21,0.92, 4.87,1.12, 4.62,1.49, 4.60,1.70, 4.73,1.96, 5.04,2.33, 5.42,2.65, 5.59,2.69, 5.69,2.50, 5.73,2.12, 5.67,1.54, 5.46,1.12],
  [9, 5.17,1.07, 4.87,1.24, 4.68,1.58, 4.68,1.79, 4.83,2.04, 5.13,2.35, 5.42,2.55, 5.57,2.56, 5.63,2.38, 5.63,1.96, 5.50,1.41, 5.38,1.18],
  [10, 5.17,1.26, 4.92,1.45, 4.76,1.70, 4.83,2.0, 5.08,2.25, 5.38,2.42, 5.52,2.42, 5.57,2.08, 5.46,1.62, 5.34,1.37],
  [11, 5.10,1.49, 4.96,1.58, 4.90,1.79, 5.0,2.04, 5.25,2.27, 5.38,2.23, 5.44,1.96, 5.34,1.62],
  // top peak
  [5, 2.12,6.4, 2.16,5.29, 2.27,4.74, 2.50,4.43, 3.0,4.35, 3.34,4.37, 3.65,4.66, 3.80,4.87, 3.76,5.12, 3.46,5.71, 3.17,6.0, 3.0,6.4],
  [6, 2.18,6.4, 2.23,5.29, 2.37,4.74, 2.67,4.49, 3.34,4.49, 3.61,4.83, 3.71,4.95, 3.65,5.25, 3.42,5.75, 3.15,6.05, 3.0,6.4],
  [7, 2.27,6.4, 2.29,5.37, 2.41,4.87, 2.75,4.62, 3.34,4.66, 3.55,4.91, 3.63,5.12, 3.54,5.42, 3.13,6.1, 3.0,6.4],
  [8, 2.35,6.4, 2.35,5.37, 2.50,4.95, 2.83,4.74, 3.34,4.79, 3.50,5.0, 3.55,5.21, 3.46,5.5, 3.12,6.1, 3.0,6.4],
  [9, 2.46,6.4, 2.44,5.50, 2.58,5.08, 2.92,4.85, 3.25,4.83, 3.46,5.10, 3.47,5.29, 3.40,5.58, 3.11,6.1, 3.0,6.4],
  [10, 2.62,6.4, 2.50,5.71, 2.62,5.25, 2.96,5.0, 3.30,4.97, 3.40,5.29, 3.39,5.46, 3.34,5.63, 3.1,6.1, 2.97,6.4],
  [11, 2.85,6.4, 2.79,6.26, 2.62,6.04, 2.64,5.75, 2.79,5.37, 3.09,5.21, 3.30,5.33, 3.34,5.54, 3.21,5.88, 2.96,6.21],
  [12, 2.83,6.12, 2.92,6.09, 3.13,5.84, 3.23,5.58, 3.21,5.46, 3.10,5.39, 2.90,5.50, 2.79,5.71, 2.77,5.98],
  // bottom peak
  [5, 4.16,-0.12, 4.12,0.99, 4.01,1.54, 3.78,1.85, 3.28,1.93, 2.94,1.91, 2.63,1.62, 2.48,1.41, 2.52,1.16, 2.82,0.57, 3.11,0.28, 3.28,-0.12],
  [6, 4.10,-0.12, 4.05,0.99, 3.91,1.54, 3.61,1.79, 2.94,1.79, 2.67,1.45, 2.57,1.33, 2.63,1.03, 2.86,0.53, 3.13,0.23, 3.28,-0.12],
  [7, 4.01,-0.12, 3.99,0.91, 3.87,1.41, 3.53,1.66, 2.94,1.62, 2.73,1.37, 2.65,1.16, 2.74,0.86, 3.15,0.18, 3.28,-0.12],
  [8, 3.93,-0.12, 3.93,0.91, 3.78,1.33, 3.45,1.54, 2.94,1.49, 2.78,1.28, 2.73,1.07, 2.82,0.78, 3.16,0.18, 3.28,-0.12],
  [9, 3.82,-0.12, 3.84,0.78, 3.70,1.20, 3.36,1.43, 3.03,1.45, 2.82,1.18, 2.81,0.99, 2.88,0.70, 3.17,0.18, 3.28,-0.12],
  [10, 3.66,-0.12, 3.78,0.57, 3.66,1.03, 3.32,1.28, 2.98,1.31, 2.88,0.99, 2.89,0.82, 2.94,0.65, 3.18,0.18, 3.31,-0.12],
  [11, 3.43,-0.12, 3.49,0.02, 3.66,0.24, 3.64,0.53, 3.49,0.91, 3.19,1.07, 2.98,0.95, 2.94,0.74, 3.07,0.40, 3.32,0.07],
  [12, 3.45,0.16, 3.36,0.19, 3.15,0.44, 3.05,0.70, 3.07,0.82, 3.18,0.89, 3.38,0.78, 3.49,0.57, 3.51,0.30],
  // small lobes next to the peaks
  [4, 4.33,6.4, 4.33,6.26, 4.32,5.84, 4.18,5.50, 3.93,5.52, 3.59,5.85, 3.33,6.4],
  [5, 4.24,6.4, 4.24,6.26, 4.26,5.84, 4.14,5.52, 3.93,5.56, 3.59,5.88, 3.33,6.4],
  [6, 4.14,6.4, 4.14,6.26, 4.14,5.84, 4.01,5.69, 3.76,5.79, 3.46,6.05, 3.35,6.4],
  [7, 4.03,6.4, 4.03,6.26, 4.03,6.0, 3.88,5.90, 3.67,6.0, 3.42,6.21, 3.4,6.4],
  [8, 3.92,6.4, 3.92,6.26, 3.88,6.07, 3.76,6.03, 3.57,6.13, 3.42,6.3, 3.42,6.4],
  [9, 3.82,6.4, 3.82,6.26, 3.76,6.15, 3.65,6.15, 3.48,6.3, 3.46,6.4],
  [10, 3.69,6.4, 3.69,6.26, 3.63,6.19, 3.55,6.21, 3.5,6.3, 3.48,6.4],
  [4, 1.95,-0.12, 1.95,0.02, 1.96,0.44, 2.10,0.78, 2.35,0.76, 2.69,0.43, 2.95,-0.12],
  [5, 2.04,-0.12, 2.04,0.02, 2.02,0.44, 2.14,0.76, 2.35,0.72, 2.69,0.40, 2.95,-0.12],
  [6, 2.14,-0.12, 2.14,0.02, 2.14,0.44, 2.27,0.59, 2.52,0.49, 2.82,0.23, 2.93,-0.12],
  [7, 2.25,-0.12, 2.25,0.02, 2.25,0.28, 2.40,0.38, 2.61,0.28, 2.86,0.07, 2.88,-0.12],
  [8, 2.36,-0.12, 2.36,0.02, 2.40,0.21, 2.52,0.25, 2.71,0.15, 2.86,-0.02, 2.86,-0.12],
  [9, 2.46,-0.12, 2.46,0.02, 2.52,0.13, 2.63,0.13, 2.80,-0.02, 2.82,-0.12],
  [10, 2.59,-0.12, 2.59,0.02, 2.65,0.09, 2.73,0.07, 2.78,-0.02, 2.80,-0.12],
  // thin blue strips between the peaks
  [2, 3.25,6.3, 3.5,5.9, 3.68,5.7, 3.97,5.30, 3.90,5.25, 3.7,5.42, 3.5,5.72, 3.3,5.95, 3.0,6.3],
  [1, 3.2,6.3, 3.44,5.9, 3.62,5.72, 3.78,5.54, 3.73,5.48, 3.55,5.6, 3.38,5.84, 3.05,6.3],
  [0, 3.15,6.3, 3.57,5.77, 3.53,5.76, 3.23,6.09, 3.10,6.3],
  [2, 3.03,-0.02, 2.78,0.38, 2.60,0.58, 2.31,0.98, 2.38,1.03, 2.58,0.86, 2.78,0.56, 2.98,0.33, 3.28,-0.02],
  [1, 3.08,-0.02, 2.84,0.38, 2.66,0.56, 2.50,0.74, 2.55,0.80, 2.73,0.68, 2.90,0.44, 3.23,-0.02],
  [0, 3.13,-0.02, 2.71,0.51, 2.75,0.52, 3.05,0.19, 3.18,-0.02],
];

const FONT = '"Liberation Sans", Arial, sans-serif';
const PLOT_W = 547;
const PLOT_H = 498.5;
const X_MAX = 6.89;
const Y_MAX = 6.28;
const AXIS_H = 66;

function closedPath(points: { x: number; y: number }[]) {
  const n = points.length;
  const dirs = points.map((_, i) => {
    const a = points[(i - 1 + n) % n];
    const b = points[(i + 1) % n];
    const dx = b.x - a.x;
    const dy = b.y - a.y;
    const len = Math.hypot(dx, dy) || 1;
    return { x: dx / len, y: dy / len };
  });
  let d = `M${points[0].x},${points[0].y}`;
  for (let i = 0; i < n; i++) {
    const j = (i + 1) % n;
    const p = points[i];
    const q = points[j];
    const h = Math.hypot(q.x - p.x, q.y - p.y) / 3;
    d += `C${p.x + dirs[i].x * h},${p.y + dirs[i].y * h} ${q.x - dirs[j].x * h},${q.y - dirs[j].y * h} ${q.x},${q.y}`;
  }
  return d + 'Z';
}

function toRows(c: Contour) {
  const rows = [];
  for (let i = 1; i < c.length; i += 2) rows.push({ x: c[i], y: c[i + 1] });
  return rows;
}

const NoDot = () => null;

function XTick({ x, y, payload }: any) {
  const major = Number.isInteger(payload.value);
  return (
    <g>
      <line x1={x} x2={x} y1={y} y2={y - (major ? 13 : 8)} stroke="#000" strokeWidth={1.5} />
      {major && (
        <text x={x} y={y + 18} textAnchor="middle" fontSize={16} fontFamily={FONT} fill="#000">
          {payload.value}
        </text>
      )}
    </g>
  );
}

function YTick({ x, y, payload }: any) {
  const major = Number.isInteger(payload.value);
  return (
    <g>
      <line x1={x} x2={x + (major ? 13 : 8)} y1={y} y2={y} stroke="#000" strokeWidth={1.5} />
      {major && (
        <text x={x - 7} y={y + 6} textAnchor="end" fontSize={16} fontFamily={FONT} fill="#000">
          {payload.value}
        </text>
      )}
    </g>
  );
}

function ContourPanel({ id, left, top, yAxisWidth, contours, colors, base }: any) {
  return (
    <div style={{ position: 'absolute', left, top }}>
      <ScatterChart
        width={yAxisWidth + PLOT_W + 3}
        height={10 + PLOT_H + AXIS_H}
        margin={{ top: 10, right: 3, bottom: 0, left: 0 }}
      >
        <defs>
          <clipPath id={id}>
            <rect x={yAxisWidth} y={10} width={(PLOT_W * Y_MAX) / X_MAX} height={PLOT_H} />
          </clipPath>
        </defs>
        <XAxis
          type="number"
          dataKey="x"
          domain={[0, X_MAX]}
          allowDataOverflow
          ticks={xTicks}
          interval={0}
          height={AXIS_H}
          tickSize={0}
          tickMargin={0}
          tick={XTick}
          axisLine={{ stroke: '#000', strokeWidth: 3 }}
        />
        <YAxis
          type="number"
          dataKey="y"
          domain={[0, Y_MAX]}
          allowDataOverflow
          ticks={yTicks}
          interval={0}
          width={yAxisWidth}
          tickSize={0}
          tickMargin={0}
          tick={YTick}
          axisLine={{ stroke: '#000', strokeWidth: 3 }}
        />
        {[[base, -0.2,-0.2, 6.5,-0.2, 6.5,6.5, -0.2,6.5] as Contour, ...contours].map((c: Contour, i: number) => (
          <Scatter
            key={i}
            data={toRows(c)}
            isAnimationActive={false}
            shape={NoDot}
            line={(props: any) => (
              <path
                d={closedPath(props.points)}
                fill={colors[c[0]]}
                stroke="#000"
                strokeWidth={i === 0 ? 0 : 1.9}
                clipPath={`url(#${id})`}
              />
            )}
          />
        ))}
        <ReferenceLine segment={[{ x: 0, y: Y_MAX }, { x: Y_MAX, y: Y_MAX }]} stroke="#222" strokeWidth={2} />
        <ReferenceLine segment={[{ x: Y_MAX, y: 0 }, { x: Y_MAX, y: Y_MAX }]} stroke="#222" strokeWidth={1.5} />
        <text x={yAxisWidth + PLOT_W / 2} y={10 + PLOT_H + 49} textAnchor="middle" fontSize={36} fontWeight="bold" fontFamily={FONT} fill="#000">
          X
        </text>
        <text transform={`translate(${yAxisWidth - 43},${10 + PLOT_H / 2}) rotate(-90)`} textAnchor="middle" fontSize={36} fontWeight="bold" fontFamily={FONT} fill="#000">
          Y
        </text>
      </ScatterChart>
    </div>
  );
}

function ContourLegend({ title, levels, colors, left, top, width, bottom, swatchLeft, labelLeft, titleRight }: any) {
  const step = 27.13;
  const y0 = top + 40;
  const ordered = [...colors].reverse();
  return (
    <div style={{ position: 'absolute', left, top, width, height: bottom - top, boxSizing: 'border-box', border: '1.5px solid #222', background: '#fff' }}>
      <div style={{ position: 'absolute', right: titleRight, top: 2, font: `22px ${FONT}`, lineHeight: '30px' }}>{title}</div>
      {ordered.map((c: string, i: number) => {
        const first = i === 0;
        const last = i === ordered.length - 1;
        const y = first ? 0 : step / 2 + (i - 1) * step;
        const h = first || last ? step / 2 : step;
        return (
          <div
            key={c}
            style={{ position: 'absolute', left: swatchLeft, top: y0 - top + y - 1, width: 35, height: h, boxSizing: 'border-box', background: c, border: '1px solid #222' }}
          />
        );
      })}
      {levels.map((l: string, i: number) => (
        <div
          key={l}
          style={{ position: 'absolute', left: labelLeft, top: y0 - top + 19 + i * step - 16, font: `22px ${FONT}`, lineHeight: '30px' }}
        >
          {l}
        </div>
      ))}
    </div>
  );
}

function PanelLetter({ children, left, baseline }: any) {
  return (
    <div style={{ position: 'absolute', left, top: baseline - 42, font: '50px "Liberation Serif", serif', lineHeight: '50px' }}>
      {children}
    </div>
  );
}

export default function App() {
  return (
    <div style={{ position: 'absolute', left: 0, top: 0, width: 1413, height: 1171, background: '#fff', overflow: 'hidden' }}>
      <ContourPanel id="clip-density" left={0} top={19} yAxisWidth={69} contours={densityContours} colors={densityColors} base={3} />
      <ContourPanel id="clip-ik" left={724} top={21} yAxisWidth={69} contours={ikContours} colors={ikColors} base={2} />
      <ContourPanel id="clip-ip" left={0} top={612} yAxisWidth={69} contours={ipContours} colors={ipColors} base={1} />
      <ContourPanel id="clip-mp" left={726} top={612} yAxisWidth={69} contours={mpContours} colors={mpColors} base={4} />
      <ContourLegend title="Density" levels={densityLevels} colors={densityColors} left={587} top={29} width={100} bottom={523} swatchLeft={7} labelLeft={58} titleRight={8} />
      <ContourLegend title="iK" levels={ikLevels} colors={ikColors} left={1312} top={31} width={99} bottom={282} swatchLeft={7} labelLeft={58} titleRight={14} />
      <ContourLegend title="iP" levels={ipLevels} colors={ipColors} left={594} top={622} width={93} bottom={953} swatchLeft={7} labelLeft={59} titleRight={11} />
      <ContourLegend title="mP" levels={mpLevels} colors={mpColors} left={1313} top={622} width={100} bottom={1008} swatchLeft={7} labelLeft={59} titleRight={9} />
      <PanelLetter left={6} baseline={33}>a</PanelLetter>
      <PanelLetter left={727} baseline={34}>b</PanelLetter>
      <PanelLetter left={6} baseline={637}>c</PanelLetter>
      <PanelLetter left={726} baseline={637}>d</PanelLetter>
    </div>
  );
}
